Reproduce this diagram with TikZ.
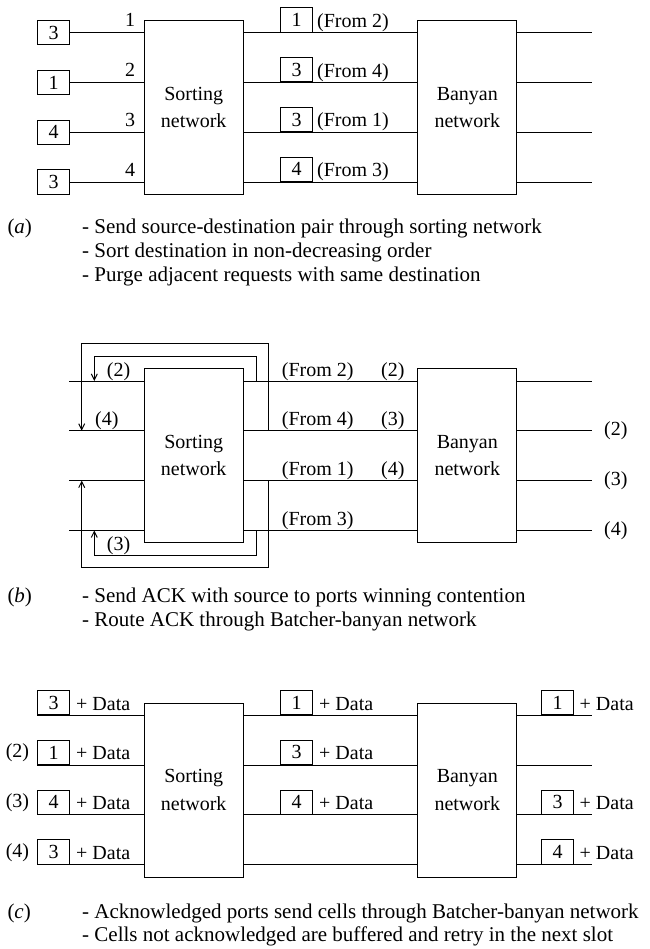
\documentclass[tikz,border=0pt]{standalone}
\usepackage{fontspec}
\setmainfont{Liberation Serif}
\usetikzlibrary{arrows.meta}
\newcommand\fsz{\fontsize{20}{27.5}\selectfont}
\newcommand\fcap{\fontsize{21}{24}\selectfont}
\begin{document}
\begin{tikzpicture}[x=1pt,y=-1pt,
  every node/.style={font=\fsz, inner sep=0pt},
  wire/.style={line width=1pt},
  net/.style={draw, line width=1pt, minimum width=99.3pt, minimum height=174pt, align=center},
  tag/.style={draw, line width=1pt, minimum width=31.6pt, minimum height=24.4pt},
  lab/.style={anchor=base west},
  captxt/.style={anchor=base west, font=\fcap},
  ack/.style={line width=1pt, -{Straight Barb[length=6pt,width=6pt]}}]
\useasboundingbox (0,0) rectangle (649,949);

% ---------------- (a) ----------------
\begin{scope}[shift={(0,32.7)}]
  \node[net] (as) at (193.7,74.7) {Sorting\\network};
  \node[net] (ab) at (467.3,74.7) {Banyan\\network};
  \foreach \i/\v/\m/\f [evaluate=\i as \y using (\i-1)*49.8] in {1/3/1/2,2/1/3/4,3/4/3/1,4/3/4/3}{
    \node[tag] (ai\i) at (53.5,\y) {\v};
    \node[anchor=base] (an\i) at (130,\y-6) {\i};
    \draw[wire] (ai\i.east) -- (as.west |- ai\i);
    \node[tag, anchor=south] (am\i) at (296.5,\y) {\m};
    \node[lab] (af\i) at (317,\y-5.4) {(From \f)};
    \draw[wire] (as.east |- ai\i) -- (ab.west |- ai\i);
    \coordinate (ae\i) at (592,\y);
    \draw[wire] (ab.east |- ae\i) -- (ae\i);
  }
\end{scope}
\node[captxt] (capa) at (7.3,233.5) {(\textit{a})};
\node[captxt] (capa1) at (82,233.5) {- Send source-destination pair through sorting network};
\node[captxt] (capa2) at (82,257.5) {- Sort destination in non-decreasing order};
\node[captxt] (capa3) at (82,281) {- Purge adjacent requests with same destination};

% ---------------- (b) ----------------
\begin{scope}[shift={(0,381)}]
  \node[net] (bs) at (193.7,74.7) {Sorting\\network};
  \node[net] (bb) at (467.3,74.7) {Banyan\\network};
  \coordinate (bTo) at (0,-37.3);
  \coordinate (bTi) at (0,-24.3);
  \coordinate (bBo) at (0,186.7);
  \coordinate (bBi) at (0,174.7);
  \foreach \i/\f [evaluate=\i as \y using (\i-1)*49.8] in {1/2,2/4,3/1,4/3}{
    \coordinate (bi\i) at (69.3,\y);
    \coordinate (be\i) at (592,\y);
    \coordinate (bL\i) at (81.7,\y);
    \coordinate (bl\i) at (94.3,\y);
    \coordinate (bR\i) at (268.3,\y);
    \coordinate (br\i) at (256,\y);
    \draw[wire] (bi\i) -- (bs.west |- bi\i);
    \draw[wire] (bs.east |- bi\i) -- (bb.west |- bi\i);
    \draw[wire] (bb.east |- be\i) -- (be\i);
    \node[lab] (bf\i) at (281.7,\y-5) {(From \f)};
  }
  \foreach \i/\d [evaluate=\i as \y using (\i-1)*49.8] in {1/2,2/3,3/4}{
    \node[lab] (bd\i) at (381,\y-5) {(\d)};
  }
  \foreach \i/\d [evaluate=\i as \y using (\i-1)*49.8] in {2/2,3/3,4/4}{
    \node[anchor=west] (bo\i) at (604,\y) {(\d)};
  }
  \node[lab] (bk2) at (106.7,-5) {(2)};
  \node[lab] (bk4) at (95,44.8) {(4)};
  \node[lab] (bk3) at (106.7,169) {(3)};
  \draw[ack] (bR2) -- (bR2 |- bTo) -- (bL2 |- bTo) -- (bL2);
  \draw[ack] (br1) -- (br1 |- bTi) -- (bl1 |- bTi) -- (bl1);
  \draw[ack] (bR3) -- (bR3 |- bBo) -- (bL3 |- bBo) -- (bL3);
  \draw[ack] (br4) -- (br4 |- bBi) -- (bl4 |- bBi) -- (bl4);
\end{scope}
\node[captxt] (capb) at (7.3,602.5) {(\textit{b})};
\node[captxt] (capb1) at (82,602.5) {- Send ACK with source to ports winning contention};
\node[captxt] (capb2) at (82,626) {- Route ACK through Batcher-banyan network};

% ---------------- (c) ----------------
\begin{scope}[shift={(0,715.3)}]
  \node[net] (cs) at (193.7,74.7) {Sorting\\network};
  \node[net] (cb) at (467.3,74.7) {Banyan\\network};
  \foreach \i/\v [evaluate=\i as \y using (\i-1)*49.8] in {1/3,2/1,3/4,4/3}{
    \node[tag, anchor=south] (ci\i) at (53.5,\y) {\v};
    \node[lab] (cd\i) at (76,\y-5.3) {+ Data};
    \draw[wire] (ci\i.south west) -- (cs.west |- ci\i.south);
    \draw[wire] (cs.east |- ci\i.south) -- (cb.west |- ci\i.south);
    \coordinate (ce\i) at (592,\y);
    \draw[wire] (cb.east |- ce\i) -- (ce\i);
  }
  \foreach \i/\d [evaluate=\i as \y using (\i-1)*49.8] in {2/2,3/3,4/4}{
    \node[anchor=east] (cl\i) at (29.3,\y-12.2) {(\d)};
  }
  \foreach \i/\v [evaluate=\i as \y using (\i-1)*49.8] in {1/1,2/3,3/4}{
    \node[tag, anchor=south] (cm\i) at (296.5,\y) {\v};
    \node[lab] (cn\i) at (319,\y-5.3) {+ Data};
  }
  \foreach \i/\v [evaluate=\i as \y using (\i-1)*49.8] in {1/1,3/3,4/4}{
    \node[tag, anchor=south] (co\i) at (557.5,\y) {\v};
    \node[lab] (cp\i) at (579.5,\y-5.3) {+ Data};
  }
\end{scope}
\node[captxt] (capc) at (7.3,918) {(\textit{c})};
\node[captxt] (capc1) at (82,918) {- Acknowledged ports send cells through Batcher-banyan network};
\node[captxt] (capc2) at (82,941.5) {- Cells not acknowledged are buffered and retry in the next slot};
\end{tikzpicture}
\end{document}
